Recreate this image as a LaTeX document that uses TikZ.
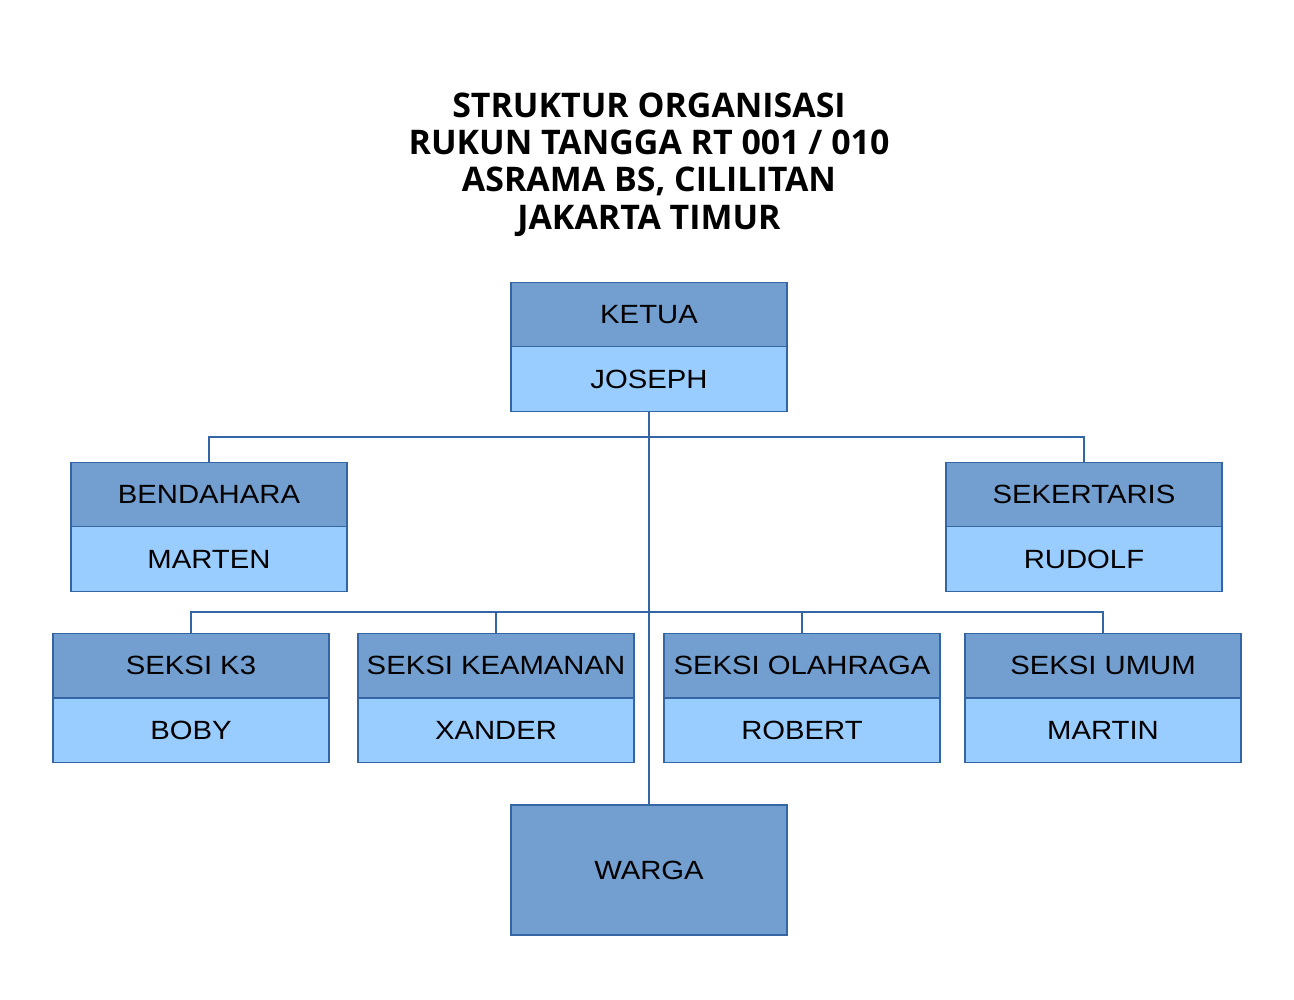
\documentclass[tikz,border=0pt]{standalone}
\usepackage{fontspec}
\setmainfont{Liberation Sans}
\newfontfamily\judulfont{Open Sans}
\usepackage{tikz}
\usepackage{graphicx}
\usepackage{xcolor}
\definecolor{biruTua}{HTML}{729FCF}
\definecolor{biruMuda}{HTML}{99CCFF}
\definecolor{garis}{HTML}{3465A4}
\newcommand{\lebar}[1]{\scalebox{1.11}[1]{#1}}

\begin{document}
\begin{tikzpicture}[
    jabatan/.style={draw=garis, fill=biruTua, line width=0.6pt, inner sep=0pt,
      minimum width=5.52cm, minimum height=1.29cm, font=\fontsize{15}{18}\selectfont},
    nama/.style={jabatan, fill=biruMuda},
    hubung/.style={draw=garis, line width=0.6pt}]
    \useasboundingbox (0,0) rectangle (25.88,-20);
    \node (judul) at (12.98,-3.29) [align=center,
      font=\judulfont\bfseries\fontsize{19.3}{21.2}\selectfont]
      {STRUKTUR ORGANISASI\\RUKUN TANGGA RT 001 / 010\\ASRAMA BS, CILILITAN\\JAKARTA TIMUR};
    \node [jabatan] (A1) at (12.98,-6.29) {\lebar{KETUA}};
    \node [nama] (A2) at (12.98,-7.58) {\lebar{JOSEPH}};
    \node [jabatan] (B1) at (4.18,-9.89) {\lebar{BENDAHARA}};
    \node [nama] (B2) at (4.18,-11.18) {\lebar{MARTEN}};
    \node [jabatan] (C1) at (21.68,-9.89) {\lebar{SEKERTARIS}};
    \node [nama] (C2) at (21.68,-11.18) {\lebar{RUDOLF}};
    \node [jabatan] (D1) at (3.82,-13.31) {\lebar{SEKSI K3}};
    \node [nama] (D2) at (3.82,-14.61) {\lebar{BOBY}};
    \node [jabatan] (E1) at (9.92,-13.31) {\lebar{SEKSI KEAMANAN}};
    \node [nama] (E2) at (9.92,-14.61) {\lebar{XANDER}};
    \node [jabatan] (F1) at (16.04,-13.31) {\lebar{SEKSI OLAHRAGA}};
    \node [nama] (F2) at (16.04,-14.61) {\lebar{ROBERT}};
    \node [jabatan] (G1) at (22.06,-13.31) {\lebar{SEKSI UMUM}};
    \node [nama] (G2) at (22.06,-14.61) {\lebar{MARTIN}};
    \node [jabatan, minimum height=2.6cm] (W) at (12.98,-17.40) {\lebar{WARGA}};
    \coordinate (P1) at (12.98,-8.74);
    \coordinate (P2) at (12.98,-12.24);
    \draw [hubung] (A2) to (W);
    \draw [hubung] (B1) |- (P1) -| (C1);
    \draw [hubung] (D1) |- (P2) -| (G1);
    \draw [hubung] (E1) |- (P2);
    \draw [hubung] (F1) |- (P2);
  \end{tikzpicture}
\end{document}
